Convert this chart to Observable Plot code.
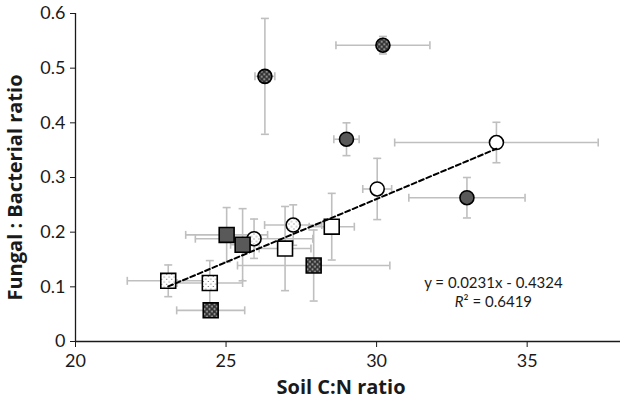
<!DOCTYPE html>
<html><head><meta charset="utf-8">
<script src="https://cdn.jsdelivr.net/npm/d3@7"></script>
<script src="https://cdn.jsdelivr.net/npm/@observablehq/plot@0.6"></script>
<style>body{margin:0;background:#fff}</style>
</head><body><div id="chart"></div>
<script>
// Soil C:N ratio (x) and Fungal:Bacterial ratio (y) with error bars
const cnRatio = [26.29, 30.21, 29.0, 33.0, 33.98, 30.02, 27.23, 25.93, 23.08, 24.46, 24.49, 25.02, 25.55, 26.96, 28.51, 27.91];
const fbRatio = [0.485, 0.542, 0.370, 0.263, 0.364, 0.279, 0.213, 0.188, 0.111, 0.107, 0.057, 0.195, 0.177, 0.170, 0.210, 0.139];
const cnErr   = [0.33, 1.56, 0.42, 1.93, 3.38, 0.48, 0.95, 1.95, 1.36, 1.09, 1.13, 1.36, 0.40, 0.86, 0.75, 2.53];
const fbErr   = [0.106, 0.016, 0.030, 0.037, 0.037, 0.056, 0.037, 0.036, 0.029, 0.041, 0.008, 0.050, 0.066, 0.077, 0.061, 0.065];
const markerShape = ["circle","circle","circle","circle","circle","circle","circle","circle","square","square","square","square","square","square","square","square"];
const markerFill  = ["darkDots","darkDots","solid","solid","open","open","lightDots","lightDots","lightDots","lightDots","darkDots","solid","solid","open","open","darkDots"];
const xTicks = [20, 25, 30, 35];
const yTicks = [0, 0.1, 0.2, 0.3, 0.4, 0.5, 0.6];
const slope = 0.0231, intercept = -0.4324;
const eqText = "y = 0.0231x - 0.4324";
const r2Text = "R² = 0.6419";

const data = cnRatio.map((x, i) => ({x, y: fbRatio[i], xe: cnErr[i], ye: fbErr[i], shape: markerShape[i], fill: markerFill[i]}));
const fillMap = {open: "white", lightDots: "url(#lightDots)", solid: "#595959", darkDots: "url(#darkDots)"};
const hCap = {draw(ctx, size) { const w = Math.sqrt(size / Math.PI); ctx.moveTo(-w, 0); ctx.lineTo(w, 0); }};
const vCap = {draw(ctx, size) { const w = Math.sqrt(size / Math.PI); ctx.moveTo(0, -w); ctx.lineTo(0, w); }};
const errColor = "#bfbfbf";
const font = "Lato, 'Open Sans', sans-serif";
const titleFont = "'Open Sans', Lato, sans-serif";

const chart = Plot.plot({
  width: 622, height: 405,
  marginLeft: 75, marginRight: 2, marginTop: 13, marginBottom: 64,
  style: {fontFamily: font, fontSize: "18px", color: "#1a1a1a", background: "white"},
  x: {domain: [20, 38.1]},
  y: {domain: [0, 0.6]},
  color: {type: "identity"},
  marks: [
    Plot.axisX({ticks: xTicks, tickSize: 6, tickPadding: 7, label: null, fontSize: 18, tickFormat: d => String(d)}),
    Plot.axisY({ticks: yTicks, tickSize: 5, tickPadding: 5, label: null, fontSize: 18, tickFormat: d => d === 0 ? "0" : d.toFixed(1)}),
    Plot.ruleX([20], {stroke: "#1a1a1a", strokeWidth: 1.3}),
    Plot.ruleY([0], {stroke: "#1a1a1a", strokeWidth: 1.3}),
    // error bars
    Plot.ruleY(data, {y: "y", x1: d => d.x - d.xe, x2: d => d.x + d.xe, stroke: errColor, strokeWidth: 1.6}),
    Plot.ruleX(data, {x: "x", y1: d => d.y - d.ye, y2: d => d.y + d.ye, stroke: errColor, strokeWidth: 1.6}),
    Plot.dot(data, {x: d => d.x - d.xe, y: "y", symbol: vCap, r: 4, stroke: errColor, strokeWidth: 1.6}),
    Plot.dot(data, {x: d => d.x + d.xe, y: "y", symbol: vCap, r: 4, stroke: errColor, strokeWidth: 1.6}),
    Plot.dot(data, {x: "x", y: d => d.y - d.ye, symbol: hCap, r: 4, stroke: errColor, strokeWidth: 1.6}),
    Plot.dot(data, {x: "x", y: d => d.y + d.ye, symbol: hCap, r: 4, stroke: errColor, strokeWidth: 1.6}),
    // markers
    Plot.dot(data.filter(d => d.shape === "circle"), {x: "x", y: "y", symbol: "circle", r: 7, fill: d => fillMap[d.fill], stroke: "black", strokeWidth: 1.6}),
    Plot.dot(data.filter(d => d.shape === "square"), {x: "x", y: "y", symbol: "square", r: 8.4, fill: d => fillMap[d.fill], stroke: "black", strokeWidth: 1.6}),
    // trend line
    Plot.line(d3.extent(cnRatio), {x: d => d, y: d => slope * d + intercept, stroke: "black", strokeWidth: 2, strokeDasharray: "5,3"}),
    Plot.text([eqText], {x: 33.88, y: 0.106, text: d => d, fontSize: 15, fill: "#1a1a1a"}),
    Plot.text([r2Text], {x: 33.88, y: 0.071, text: d => d, fontSize: 15, fill: "#1a1a1a", className: "r2"}),
    // axis titles
    Plot.text(["Soil C:N ratio"], {frameAnchor: "bottom", dx: -7, dy: 52, text: d => d, fontSize: 20, fontWeight: "bold", fontFamily: titleFont, fill: "#1a1a1a"}),
    Plot.text(["Fungal : Bacterial ratio"], {frameAnchor: "left", textAnchor: "middle", dx: -60, dy: 10, rotate: -90, text: d => d, fontSize: 20, fontWeight: "bold", fontFamily: titleFont, fill: "#1a1a1a"})
  ]
});

const svg = d3.select(chart);
const defs = svg.insert("defs", ":first-child");
const p1 = defs.append("pattern").attr("id", "lightDots").attr("patternUnits", "userSpaceOnUse").attr("width", 5).attr("height", 5);
p1.append("rect").attr("width", 5).attr("height", 5).attr("fill", "white");
p1.append("circle").attr("cx", 1).attr("cy", 1).attr("r", 0.6).attr("fill", "#555");
p1.append("circle").attr("cx", 3.5).attr("cy", 3.5).attr("r", 0.6).attr("fill", "#555");
const p2 = defs.append("pattern").attr("id", "darkDots").attr("patternUnits", "userSpaceOnUse").attr("width", 5).attr("height", 5);
p2.append("rect").attr("width", 5).attr("height", 5).attr("fill", "#303030");
p2.append("circle").attr("cx", 1.25).attr("cy", 1.25).attr("r", 0.9).attr("fill", "#c8c8c8");
p2.append("circle").attr("cx", 3.75).attr("cy", 3.75).attr("r", 0.9).attr("fill", "#c8c8c8");

// italic R in R²
svg.selectAll(".r2 text").each(function() {
  const t = d3.select(this);
  const s = t.text();
  t.text(null);
  t.append("tspan").attr("font-style", "italic").text(s.slice(0, 1));
  t.append("tspan").text(s.slice(1));
});

document.getElementById("chart").appendChild(chart);
</script>
</body></html>
